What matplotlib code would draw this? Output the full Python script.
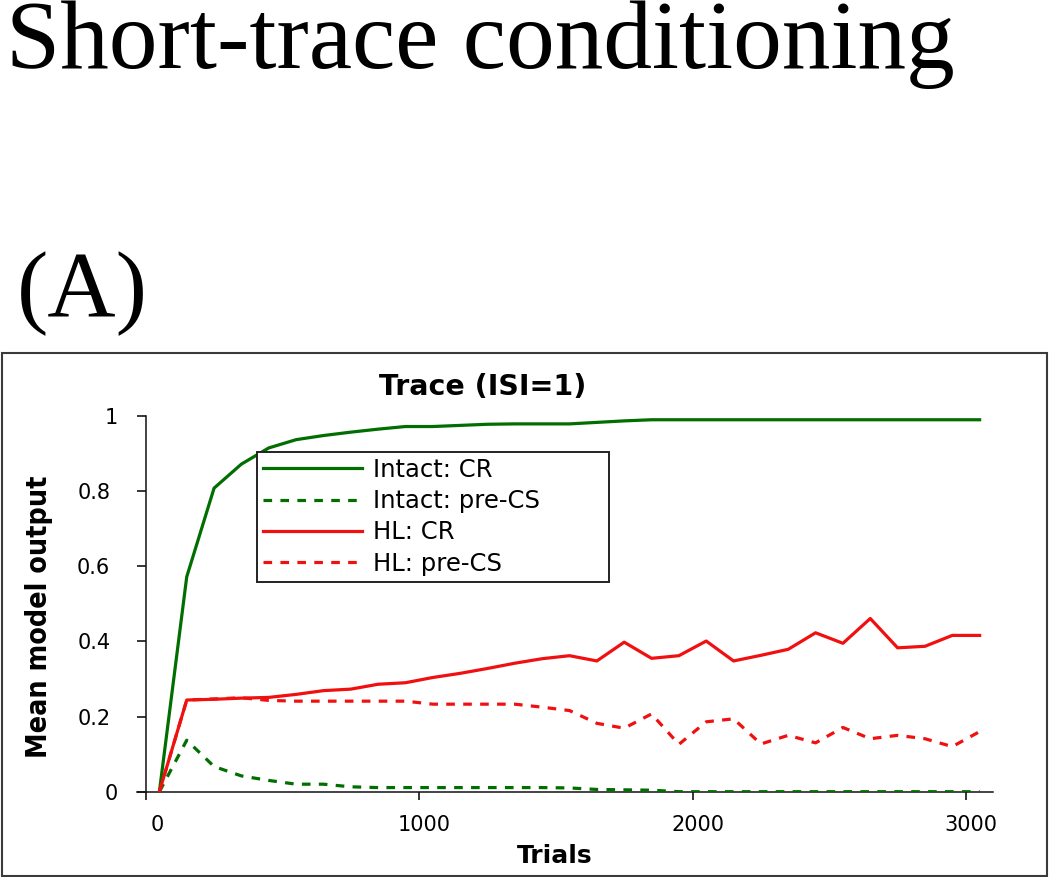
import numpy as np
import matplotlib
matplotlib.use("Agg")
import matplotlib.pyplot as plt
from matplotlib import font_manager
from matplotlib.font_manager import FontProperties
from matplotlib.patches import Rectangle
from matplotlib.transforms import ScaledTranslation

# trials at which the model was sampled
trials = np.arange(50, 3051, 100)

intact_cr = [0.0, 0.572, 0.808, 0.872, 0.915, 0.937, 0.948, 0.957, 0.965, 0.972,
             0.972, 0.975, 0.978, 0.979, 0.979, 0.979, 0.983, 0.987, 0.99, 0.99,
             0.99, 0.99, 0.99, 0.99, 0.99, 0.99, 0.99, 0.99, 0.99, 0.99, 0.99]
intact_pre = [0.0, 0.137, 0.067, 0.042, 0.03, 0.02, 0.02, 0.013, 0.011, 0.011,
              0.011, 0.011, 0.011, 0.011, 0.011, 0.01, 0.006, 0.005, 0.004, 0.0,
              0.0, 0.0, 0.0, 0.0, 0.0, 0.0, 0.0, 0.0, 0.0, 0.0, 0.0]
hl_cr = [0.0, 0.244, 0.246, 0.249, 0.251, 0.259, 0.269, 0.273, 0.286, 0.29,
         0.304, 0.315, 0.328, 0.342, 0.354, 0.362, 0.348, 0.398, 0.355, 0.362,
         0.401, 0.348, 0.363, 0.379, 0.423, 0.395, 0.461, 0.383, 0.387, 0.416, 0.416]
hl_pre = [0.0, 0.244, 0.247, 0.25, 0.243, 0.241, 0.241, 0.241, 0.241, 0.241,
          0.233, 0.233, 0.233, 0.233, 0.225, 0.216, 0.182, 0.169, 0.207, 0.126,
          0.186, 0.194, 0.127, 0.15, 0.13, 0.171, 0.141, 0.15, 0.141, 0.12, 0.16]

xticks = [0, 1000, 2000, 3000]
yticks = [0, 0.2, 0.4, 0.6, 0.8, 1]
ytick_labels = ["0", "0.2", "0.4", "0.6", "0.8", "1"]

GREEN = "#006e00"
RED = "#f01010"
DASH = (0, (2.7, 2.6))

W, H = 1050, 877
fig = plt.figure(figsize=(W / 100, H / 100), dpi=100)

# big panel headings
fig.text(6 / W, 1 - 68 / H, "Short-trace conditioning", family="Liberation Serif",
         fontsize=70, va="baseline", ha="left")
fig.text(17 / W, 1 - 316 / H, "(A)", family="Liberation Serif",
         fontsize=68, va="baseline", ha="left")

# chart frame
fig.patches.append(Rectangle((2 / W, 1 - 876 / H), 1045 / W, 523 / H,
                             transform=fig.transFigure, fill=False,
                             edgecolor="#3a3a3a", lw=1.5))

ax = fig.add_axes([136.7 / W, 1 - 791.7 / H, 856.6 / W, 375.7 / H])

ax.plot(trials, intact_cr, color=GREEN, lw=2.3, label="Intact: CR", zorder=3)
ax.plot(trials, intact_pre, color=GREEN, lw=2.3, ls=DASH, label="Intact: pre-CS", zorder=3)
ax.plot(trials, hl_cr, color=RED, lw=2.3, label="HL: CR", zorder=3)
ax.plot(trials, hl_pre, color=RED, lw=2.3, ls=DASH, label="HL: pre-CS", zorder=3)

ax.set_xlim(-33, 3100)
ax.set_ylim(0, 1)
ax.spines["left"].set_position(("data", 0))
ax.spines["top"].set_visible(False)
ax.spines["right"].set_visible(False)
for s in ("left", "bottom"):
    ax.spines[s].set_linewidth(1.1)
    ax.spines[s].set_color("#111111")

ax.set_xticks(xticks, [str(t) for t in xticks])
ax.set_yticks(yticks, ytick_labels)
ax.tick_params(axis="y", direction="out", length=6.5, width=1.1, pad=19, labelsize=15)
ax.tick_params(axis="x", direction="out", length=6, width=1.1, pad=10.5, labelsize=15)
for lab, dx in zip(ax.get_xticklabels(), [12, 5, 5, 5]):
    lab.set_transform(lab.get_transform() + ScaledTranslation(dx / 100, 0, fig.dpi_scale_trans))
for lab, dx in zip(ax.get_yticklabels(), [8, 0, 0, 0, 0, 8]):
    lab.set_transform(lab.get_transform() + ScaledTranslation(dx / 100, 0, fig.dpi_scale_trans))

leg = ax.legend(loc="upper left", bbox_to_anchor=(256.7 / W, 1 - 451.7 / H, 352 / W, 0),
                bbox_transform=fig.transFigure, mode="expand", fontsize=17.5,
                handlelength=4.1, handletextpad=0.42, borderpad=0.25, labelspacing=0.3,
                borderaxespad=0, fancybox=False, edgecolor="#222222", framealpha=1)
leg.get_frame().set_linewidth(1.4)

# chart title and axis titles
fig.text(483 / W, 1 - 387 / H, "Trace (ISI=1)", fontsize=20.5, fontweight="bold",
         ha="center", va="center")
fig.text(555 / W, 1 - 856 / H, "Trials", fontsize=18, fontweight="bold",
         ha="center", va="center")

# y title is set in a narrow bold face in the original
fonts = font_manager.fontManager.ttflist
bold = ("bold", 700, "700")
lib_narrow = [f for f in fonts if f.name == "Liberation Sans Narrow"
              and f.weight in bold and f.style == "normal"]
dv_cond = [f for f in fonts if ("Condensed" in f.name or f.stretch == "condensed")
           and f.weight in bold and f.style == "normal"]
if lib_narrow:
    ylab_prop = FontProperties(fname=lib_narrow[0].fname, size=26.5)
elif dv_cond:
    ylab_prop = FontProperties(fname=dv_cond[0].fname, size=20.5)
else:
    ylab_prop = FontProperties(family="Liberation Sans", weight="bold", size=22)
fig.text(39 / W, 1 - 616.7 / H, "Mean model output", rotation=90,
         ha="center", va="center", fontproperties=ylab_prop)

fig.savefig("out.png", dpi=100)
